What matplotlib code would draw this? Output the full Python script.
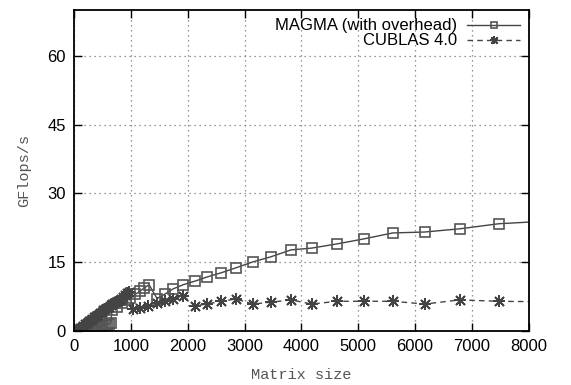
import numpy as np
import matplotlib.pyplot as plt

# matrix sizes and GFlop/s
magma_n = [32, 64, 96, 128, 160, 192, 224, 256, 288, 320, 352, 384, 416, 448, 480,
           512, 544, 576, 608, 640, 668, 760, 844, 920, 990, 1072, 1160, 1230, 1318,
           1458, 1600, 1740, 1915, 2127, 2337, 2583, 2847, 3146, 3462, 3814, 4183,
           4622, 5097, 5606, 6169, 6784, 7469, 8200]
magma_gf = [0.02, 0.05, 0.1, 0.15, 0.2, 0.3, 0.35, 0.45, 0.5, 0.6, 0.7, 0.8, 0.9, 1.0, 1.1,
            1.2, 1.3, 1.4, 1.6, 1.8, 4.6, 5.3, 6.1, 6.7, 7.3, 8.0, 8.7, 9.4, 10.1,
            7.1, 8.1, 9.2, 10.1, 10.9, 11.8, 12.7, 13.8, 15.1, 16.2, 17.7, 18.1,
            19.0, 20.1, 21.4, 21.6, 22.3, 23.4, 23.9]

cublas_n = [32, 64, 96, 128, 160, 192, 224, 256, 288, 320, 352, 384, 416, 448, 480,
            512, 544, 576, 608, 640, 672, 704, 736, 768, 800, 832, 864, 896, 928, 960,
            1040, 1160, 1300, 1458, 1600, 1740, 1915, 2127, 2337, 2583, 2847, 3146,
            3462, 3814, 4183, 4622, 5097, 5606, 6169, 6784, 7469, 8200]
cublas_gf = [0.1, 0.3, 0.6, 0.9, 1.2, 1.5, 1.8, 2.1, 2.4, 2.7, 3.0, 3.3, 3.6, 3.9, 4.2,
             4.5, 4.8, 5.0, 5.3, 5.6, 5.8, 6.1, 6.3, 6.6, 6.8, 7.1, 7.4, 7.8, 8.2, 8.6,
             4.8, 5.0, 5.5, 6.1, 6.5, 7.0, 7.7, 5.5, 5.9, 6.5, 7.0, 5.9,
             6.3, 6.8, 5.9, 6.5, 6.5, 6.5, 5.9, 6.8, 6.5, 6.4]

xticks = np.arange(0, 8001, 1000)
yticks = [0, 15, 30, 45, 60]

fig = plt.figure(figsize=(5.71, 3.85), dpi=100)
ax = fig.add_axes([0.130, 0.140, 0.796, 0.834])

l1, = ax.plot(magma_n, magma_gf, color='#444444', lw=1.0, marker='s', ms=6.5,
              mfc='none', mec='#555555', mew=1.2)
l2, = ax.plot(cublas_n, cublas_gf, color='#444444', lw=1.0, ls=(0, (4, 3)),
              marker=(4, 2, 0), ms=9, mec='#444444', mew=1.3)
# second pass with the diagonal arms so each star reads like gnuplot's '*'
l3, = ax.plot(cublas_n, cublas_gf, ls='none', marker=(4, 2, 45), ms=9,
              mec='#444444', mew=1.3)

ax.set_xlim(0, 8000)
ax.set_ylim(0, 70)
ax.set_xticks(xticks)
ax.set_yticks(yticks)
ax.grid(True, color='#777777', ls=(0, (1, 3)), lw=0.9)
ax.tick_params(direction='in', length=6, width=1, top=True, right=True,
               labelsize=12, pad=6)
for lab in ax.get_xticklabels() + ax.get_yticklabels():
    lab.set_family('Liberation Sans')
for s in ax.spines.values():
    s.set_linewidth(1.3)

ax.set_xlabel('Matrix size', family='Liberation Mono', fontsize=11, color='#555555',
              labelpad=10)
ax.set_ylabel('GFlops/s', family='Liberation Mono', fontsize=11, color='#555555',
              labelpad=12)

leg = ax.legend([l1, (l2, l3)], ['MAGMA (with overhead)', 'CUBLAS 4.0'],
                loc='upper right', frameon=False, markerfirst=False, numpoints=1,
                handlelength=3.2, markerscale=0.7, borderaxespad=0.1,
                labelspacing=0.0, handletextpad=0.6,
                prop={'family': 'Liberation Sans', 'size': 12})
for t in leg.get_texts():
    t.set_ha('right')

fig.savefig('out.png', dpi=100)
